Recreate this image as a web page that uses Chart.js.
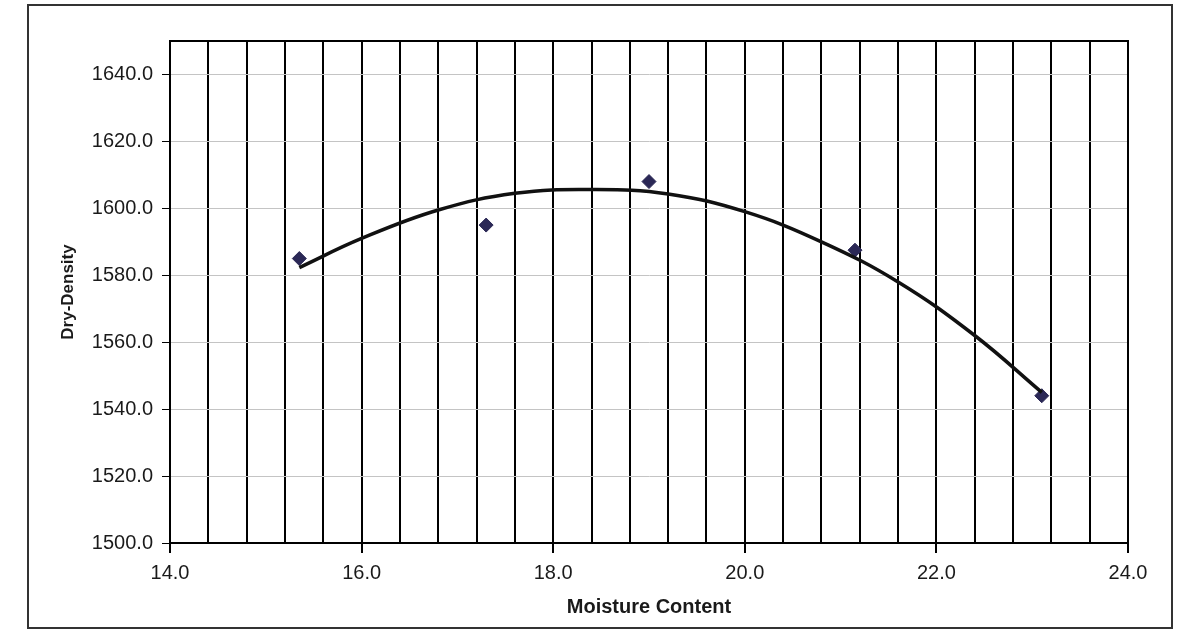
<!DOCTYPE html>
<html lang="en">
<head>
    <meta charset="UTF-8">
    <title>Dry-Density vs Moisture Content</title>
    <script src="https://cdn.jsdelivr.net/npm/chart.js"></script>
    <style>
        html, body { margin: 0; padding: 0; background: #fff; }
        #wrap { width: 1179px; height: 638px; position: relative; }
    </style>
</head>
<body>
    <div id="wrap">
        <canvas id="compactionChart"></canvas>
    </div>
    <script>
        // test points
        const moisture = [15.35, 17.3, 19.0, 21.15, 23.1];
        const dryDensity = [1585, 1595, 1608, 1587.5, 1544];

        // trend curve as traced on the picture
        const curveMoisture = [15.35, 16.0, 16.8, 17.6, 18.4, 19.2, 20.0, 20.8, 21.6, 22.4, 23.1];
        const curveDensity = [1582.3, 1591, 1599.5, 1604.5, 1605.6, 1604.3, 1599, 1590, 1578, 1562, 1545];

        const fontFamily = "'Liberation Sans', Arial, sans-serif";

        function isMajor(v) {
            return Math.abs(v / 2 - Math.round(v / 2)) < 1e-6;
        }

        // white background, frame round the plot and round the whole chart
        const framePlugin = {
            id: 'frame',
            beforeDraw(chart) {
                const ctx = chart.ctx;
                ctx.save();
                ctx.fillStyle = '#fff';
                ctx.fillRect(0, 0, chart.width, chart.height);
                ctx.restore();
            },
            afterDraw(chart) {
                const ctx = chart.ctx;
                const a = chart.chartArea;
                ctx.save();
                ctx.strokeStyle = '#000';
                ctx.lineWidth = 2;
                ctx.strokeRect(a.left, a.top, a.right - a.left, a.bottom - a.top);
                ctx.strokeStyle = '#333';
                ctx.lineWidth = 2;
                ctx.strokeRect(28, 5, 1144, 623);
                ctx.restore();
            }
        };

        const ctx = document.getElementById('compactionChart').getContext('2d');

        new Chart(ctx, {
            type: 'scatter',
            data: {
                datasets: [
                    {
                        label: 'Trend',
                        data: curveMoisture.map((x, i) => ({ x: x, y: curveDensity[i] })),
                        showLine: true,
                        borderColor: '#111',
                        borderWidth: 3.5,
                        pointRadius: 0,
                        tension: 0.4,
                        fill: false
                    },
                    {
                        label: 'Dry-Density',
                        data: moisture.map((x, i) => ({ x: x, y: dryDensity[i] })),
                        pointStyle: 'rectRot',
                        pointRadius: 7,
                        backgroundColor: '#2b2856',
                        borderColor: '#2b2856',
                        borderWidth: 1
                    }
                ]
            },
            options: {
                responsive: true,
                maintainAspectRatio: false,
                animation: false,
                layout: {
                    padding: { left: 54, right: 51, top: 41, bottom: 17 }
                },
                plugins: {
                    legend: { display: false },
                    tooltip: { enabled: false }
                },
                scales: {
                    x: {
                        type: 'linear',
                        min: 14,
                        max: 24,
                        afterFit: (scale) => { scale.height = 78; },
                        ticks: {
                            stepSize: 0.4,
                            autoSkip: false,
                            maxRotation: 0,
                            padding: 8,
                            color: '#1a1a1a',
                            font: { family: fontFamily, size: 20 },
                            callback: (v) => isMajor(v) ? v.toFixed(1) : ''
                        },
                        grid: {
                            color: '#000',
                            lineWidth: 2,
                            tickLength: 10,
                            tickColor: (c) => (c.tick && isMajor(c.tick.value)) ? '#000' : 'rgba(0,0,0,0)'
                        },
                        border: { color: '#000', width: 2 },
                        title: {
                            display: true,
                            text: 'Moisture Content',
                            color: '#1a1a1a',
                            font: { family: fontFamily, size: 20, weight: 'bold' },
                            padding: { top: 0, bottom: 2 }
                        }
                    },
                    y: {
                        min: 1500,
                        max: 1650,
                        afterFit: (scale) => { scale.width = 116; },
                        afterBuildTicks: (scale) => {
                            scale.ticks = scale.ticks.filter(t => t.value <= 1640);
                        },
                        ticks: {
                            stepSize: 20,
                            padding: 9,
                            color: '#1a1a1a',
                            font: { family: fontFamily, size: 20 },
                            callback: (v) => v.toFixed(1)
                        },
                        grid: {
                            color: '#c4c4c4',
                            lineWidth: 1,
                            tickLength: 8,
                            tickColor: '#000'
                        },
                        border: { color: '#000', width: 2 },
                        title: {
                            display: true,
                            text: 'Dry-Density',
                            color: '#1a1a1a',
                            font: { family: fontFamily, size: 17, weight: 'bold' },
                            padding: { top: 4, bottom: 0 }
                        }
                    }
                }
            },
            plugins: [framePlugin]
        });
    </script>
</body>
</html>
